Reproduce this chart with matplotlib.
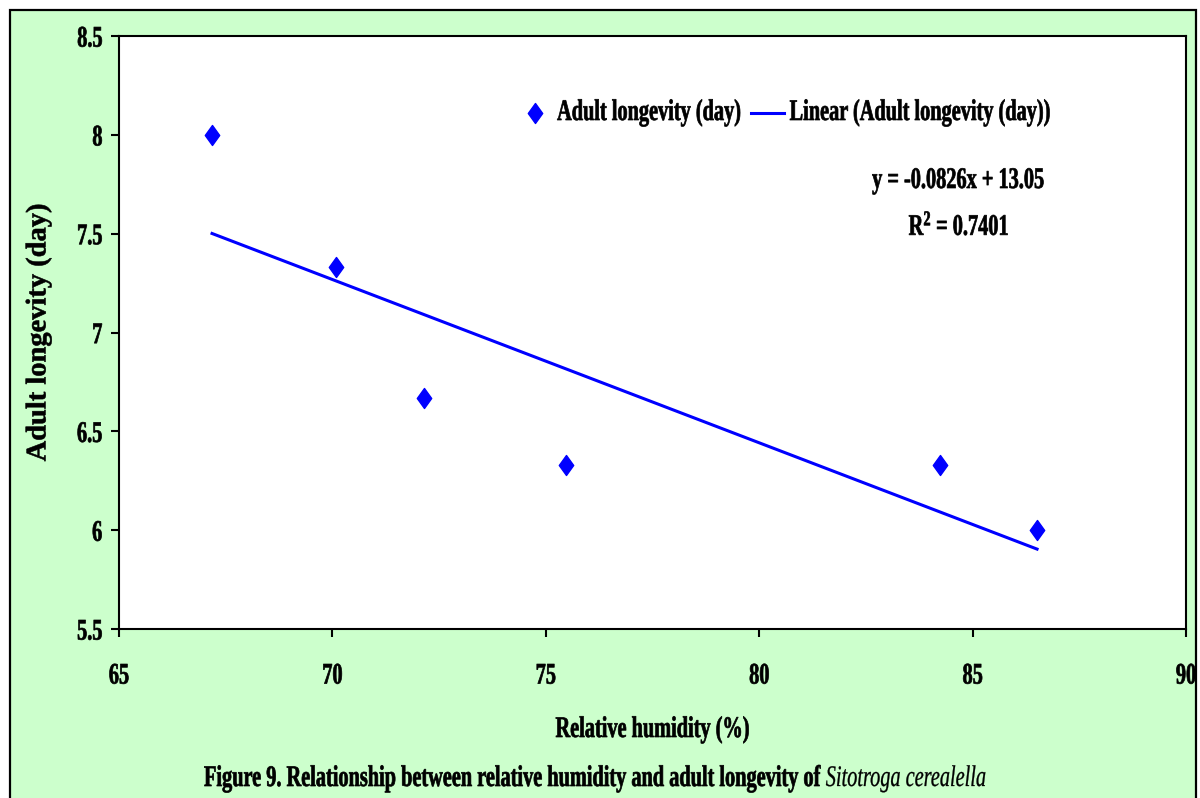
import matplotlib
matplotlib.use("Agg")
import matplotlib.pyplot as plt
from matplotlib.patheffects import AbstractPathEffect
from matplotlib.transforms import Affine2D
from matplotlib.patches import Rectangle
from matplotlib.path import Path

# measurements
humidity = [67.18, 70.08, 72.15, 75.47, 84.24, 86.51]
longevity = [8.0, 7.33, 6.67, 6.33, 6.33, 6.0]

# linear trend reported on the chart
slope = -0.0826
intercept = 13.05
r_squared = 0.7401

x_ticks = [65, 70, 75, 80, 85, 90]
y_ticks = [5.5, 6, 6.5, 7, 7.5, 8, 8.5]
series_label = "Adult longevity (day)"
trend_label = "Linear (Adult longevity (day))"
x_title = "Relative humidity (%)"
y_title = "Adult longevity (day)"
caption_bold = "Figure 9. Relationship between relative humidity and adult longevity of"
caption_italic = "Sitotroga cerealella"

W, H = 1200, 798
SX = 0.68            # condensed look: narrow font size, tall glyphs
FS = 21.5 * SX       # layout size of horizontal text
BG = "#CCFFCC"
BLUE = "#0000FF"


class Tall(AbstractPathEffect):
    """Stretch glyphs vertically so a small font reads as a tall condensed face.

    mid=False keeps the baseline fixed, mid=True keeps the glyphs' vertical centre.
    """

    def __init__(self, sy=1 / SX, mid=False, weight=0.5):
        super().__init__()
        self.sy = sy
        self.mid = mid
        self.weight = weight

    def draw_path(self, renderer, gc, tpath, affine, rgbFace=None):
        y0 = 0.0
        if self.mid:
            ext = tpath.get_extents()
            y0 = ext.y0 + ext.height / 2
        t = Affine2D().translate(0, -y0).scale(1, self.sy).translate(0, y0)
        gc0 = renderer.new_gc()
        gc0.copy_properties(gc)
        if rgbFace is not None and self.weight:
            gc0.set_foreground(rgbFace)
            gc0.set_linewidth(self.weight)
        renderer.draw_path(gc0, tpath, t + affine, rgbFace)
        gc0.restore()


def fx(px):
    return px / W


def fy(py):
    return 1 - py / H


plt.rcParams['font.family'] = ['Liberation Serif', 'DejaVu Serif']
plt.rcParams['font.weight'] = 'bold'
plt.rcParams['mathtext.fontset'] = 'custom'
plt.rcParams['mathtext.rm'] = 'Liberation Serif:bold'
plt.rcParams['mathtext.bf'] = 'Liberation Serif:bold'
plt.rcParams['mathtext.it'] = 'Liberation Serif:bold:italic'

fig = plt.figure(figsize=(W / 100, H / 100), dpi=100)
fig.patch.set_facecolor('white')
fig.add_artist(Rectangle((fx(10), -0.02), fx(1186), fy(10) + 0.02,
                         transform=fig.transFigure, facecolor=BG,
                         edgecolor='black', linewidth=1.6, zorder=0))

ax = fig.add_axes([fx(119), fy(629), fx(1186 - 119), (629 - 36) / H])
ax.set_facecolor('white')
for s in ax.spines.values():
    s.set_linewidth(1.5)
    s.set_color('black')

diamond = Path([(0, 1), (0.72, 0), (0, -1), (-0.72, 0), (0, 1)], closed=True)
ax.plot(humidity, longevity, linestyle='none', marker=diamond, markersize=14.4,
        color=BLUE, label=series_label, zorder=3)

x_fit = [min(humidity), max(humidity)]
y_fit = [slope * x + intercept for x in x_fit]
ax.plot(x_fit, y_fit, color=BLUE, linewidth=2.2, label=trend_label, zorder=2)

ax.set_xlim(65, 90)
ax.set_ylim(5.5, 8.5)
ax.set_xticks(x_ticks, labels=[f"{v:g}" for v in x_ticks])
ax.set_yticks(y_ticks, labels=[f"{v:g}" for v in y_ticks])
ax.tick_params(axis='both', direction='out', length=5.5, width=1.5, labelsize=FS)
ax.tick_params(axis='x', pad=23.0)
ax.tick_params(axis='y', pad=6.5)
for t in ax.xaxis.get_major_ticks():
    t.label1.set_path_effects([Tall()])
for t in ax.yaxis.get_major_ticks():
    t.label1.set_path_effects([Tall(mid=True)])

ax.set_xlabel(x_title, fontsize=FS, fontweight='bold', va='baseline',
              path_effects=[Tall()])
ax.xaxis.set_label_coords(0.5, -(737 - 629) / 593)
# the vertical title keeps normal proportions
ax.set_ylabel(y_title, fontsize=20.5, fontweight='bold',
              path_effects=[Tall(sy=1.0, weight=0.4)])
ax.yaxis.set_label_coords(-0.0633, 0.5)

leg = ax.legend(loc='center left', bbox_to_anchor=(fx(518.5), fy(115)),
                bbox_transform=fig.transFigure, ncol=2, frameon=False,
                prop={'size': FS, 'weight': 'bold'}, handlelength=1.63,
                handletextpad=0.27, columnspacing=0.49, borderpad=0,
                borderaxespad=0, numpoints=1)
for t in leg.get_texts():
    t.set_path_effects([Tall()])

fig.text(fx(958), fy(188), f"y = {slope:.4f}x + {intercept:.2f}", fontsize=FS,
         fontweight='bold', ha='center', va='baseline', path_effects=[Tall()])
fig.text(fx(959), fy(235), f"R$^{{2}}$ = {r_squared:.4f}", fontsize=FS,
         fontweight='bold', ha='center', va='baseline', path_effects=[Tall()])

renderer = fig.canvas.get_renderer()
cap = fig.text(fx(204), fy(786), caption_bold, fontsize=FS, fontweight='bold',
               ha='left', va='baseline', path_effects=[Tall()])
w_cap = cap.get_window_extent(renderer).width
fig.text(fx(204 + w_cap + 5), fy(786), caption_italic, fontsize=FS,
         fontweight='normal', style='italic', ha='left', va='baseline',
         path_effects=[Tall(weight=0.2)])

fig.savefig('out.png', dpi=100, facecolor=fig.get_facecolor())
